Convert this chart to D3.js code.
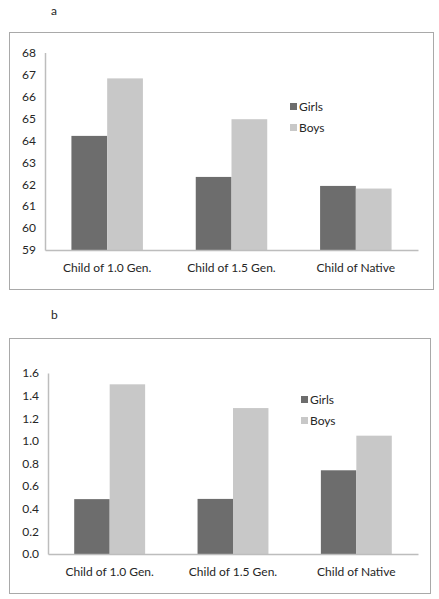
<!DOCTYPE html>
<html><head><meta charset="utf-8">
<script src="https://cdn.jsdelivr.net/npm/d3@7"></script>
<style>body{margin:0;background:#fff}text{font-family:Lato,"Open Sans",sans-serif;fill:#262626}</style>
</head><body>
<svg id="c" width="439" height="599"></svg>
<script>
const categories = ["Child of 1.0 Gen.", "Child of 1.5 Gen.", "Child of Native"];
const series = ["Girls", "Boys"];
const girlsA = [64.2, 62.33, 61.92];
const boysA = [66.82, 64.96, 61.8];
const girlsB = [0.485, 0.487, 0.74];
const boysB = [1.5, 1.29, 1.046];
const ticksA = [59, 60, 61, 62, 63, 64, 65, 66, 67, 68];
const ticksB = [0.0, 0.2, 0.4, 0.6, 0.8, 1.0, 1.2, 1.4, 1.6];
const colors = {Girls: "#6d6d6d", Boys: "#c8c8c8"};

const svg = d3.select("#c");

function panel(cfg) {
  const g = svg.append("g");
  g.append("text").attr("x", cfg.lx).attr("y", cfg.ly).attr("font-size", 12).text(cfg.label);
  g.append("rect").attr("x", cfg.box[0] + 0.5).attr("y", cfg.box[1] + 0.5)
    .attr("width", cfg.box[2] - cfg.box[0]).attr("height", cfg.box[3] - cfg.box[1])
    .attr("fill", "none").attr("stroke", "#a9a9a9").attr("stroke-width", 1);
  const x0 = d3.scaleBand().domain(categories).range([cfg.x0, cfg.x1]).padding(0);
  const groupW = x0.bandwidth() * 0.575;
  const x1 = d3.scaleBand().domain(series).range([0, groupW]).padding(0);
  const y = d3.scaleLinear().domain(cfg.domain).range([cfg.yb, cfg.yt]);
  const data = categories.map((c, i) => ({c, vals: [{s: "Girls", v: cfg.girls[i]}, {s: "Boys", v: cfg.boys[i]}]}));
  const grp = g.selectAll("g.grp").data(data).join("g")
    .attr("transform", d => `translate(${x0(d.c) + (x0.bandwidth() - groupW) / 2},0)`);
  grp.selectAll("rect").data(d => d.vals).join("rect")
    .attr("x", d => x1(d.s)).attr("width", x1.bandwidth())
    .attr("y", d => y(d.v)).attr("height", d => y(cfg.domain[0]) - y(d.v))
    .attr("fill", d => colors[d.s]);
  const ya = g.append("g").attr("transform", `translate(${cfg.x0},0)`)
    .call(d3.axisLeft(y).tickValues(cfg.ticks).tickSize(0).tickPadding(cfg.tp).tickFormat(cfg.fmt));
  ya.select(".domain").attr("stroke", "#bdbdbd").attr("stroke-width", 1.5);
  ya.selectAll("text").attr("font-size", 12).attr("fill", "#262626").attr("font-family", "Lato,sans-serif");
  const xa = g.append("g").attr("transform", `translate(0,${cfg.yb})`)
    .call(d3.axisBottom(x0).tickSize(0).tickPadding(cfg.xp));
  xa.select(".domain").attr("stroke", "#bdbdbd").attr("stroke-width", 1.5);
  xa.selectAll("text").attr("font-size", 12).attr("fill", "#262626").attr("font-family", "Lato,sans-serif");
  series.forEach((s, i) => {
    const ly = cfg.legY + i * 21;
    g.append("rect").attr("x", cfg.legX).attr("y", ly - 4).attr("width", 7).attr("height", 7).attr("fill", colors[s]);
    g.append("text").attr("x", cfg.legX + 9).attr("y", ly + 4).attr("font-size", 12).text(s);
  });
}

panel({label: "a", lx: 51, ly: 15, box: [9, 32, 433, 289], x0: 45, x1: 418, yb: 250, yt: 52.5,
  domain: [59, 68], ticks: ticksA, fmt: d3.format("d"), girls: girlsA, boys: boysA, tp: 9, xp: 13,
  legX: 290, legY: 107});
panel({label: "b", lx: 51, ly: 319, box: [9, 338, 430, 593], x0: 48, x1: 418, yb: 554, yt: 373,
  domain: [0, 1.6], ticks: ticksB, fmt: d3.format(".1f"), girls: girlsB, boys: boysB, tp: 9, xp: 13,
  legX: 301, legY: 400});
</script>
</body></html>
